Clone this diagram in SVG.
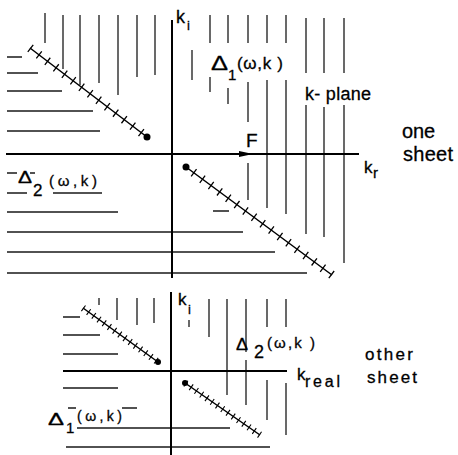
<svg xmlns="http://www.w3.org/2000/svg" width="458" height="455" viewBox="0 0 458 455">
<style>
.ax{stroke:#000;stroke-width:2;fill:none}
.h{stroke:#1a1a1a;stroke-width:1.3;fill:none}
.cut{stroke:#000;stroke-width:1.5;fill:none}
.tk{stroke:#000;stroke-width:9;stroke-dasharray:1.3 9.4;fill:none}
.tk2{stroke:#000;stroke-width:7;stroke-dasharray:1.1 5.3;fill:none}
text{font-family:"Liberation Sans","DejaVu Sans",sans-serif;fill:#000;stroke:#000;stroke-width:0.3}
</style>
<rect width="458" height="455" fill="#fff"/>
<g id="top-plane">
<g id="top-hatch-vertical">
<path class="h" d="M45,13V43 M63,15V69 M80,15V85 M99,15V83 M118,15V95 M137,15V77 M155,15V75
M192,50V80 M210,15V43 M210,77V92 M228,15V43 M228,88V104 M248,15V43 M248,82V122 M248,163V200
M267,15V43 M267,80V208 M286,15V43 M286,80V214 M306,18V73 M306,105V234 M324,18V73 M324,107V237 M344,18V73 M344,105V263"/>
</g>
<g id="top-hatch-horizontal">
<path class="h" d="M7,57H22 M7,73H38 M7,91H62 M7,111H93 M7,131H100
M7,173H17 M30,173H35 M7,193H27 M53,193H102 M7,212H118 M7,232H243 M7,252H275 M7,273H307 M213,211H229"/>
</g>
<g id="top-axes">
<path class="ax" d="M172,20V278 M6,154H359"/>
<polygon points="239,151 253,154 239,157" fill="#000"/>
</g>
<g id="top-cuts">
<path class="cut" d="M30,48L147,137 M186,167L332,275"/>
<path class="tk" d="M30,48L147,137"/>
<path class="tk" d="M332,275L186,167"/>
<circle cx="147" cy="137" r="3.5" fill="#000"/>
<circle cx="186" cy="167" r="3.5" fill="#000"/>
</g>
<g id="top-labels">
<text font-size="18"><tspan x="176" y="23">k</tspan><tspan x="187" y="30" font-size="13">i</tspan></text>
<text><tspan x="211" y="70" font-size="21" textLength="17" lengthAdjust="spacingAndGlyphs">Δ</tspan><tspan x="228" y="80" font-size="15">1</tspan><tspan x="237" y="69" font-size="17" textLength="46" lengthAdjust="spacing">(ω,k )</tspan></text>
<text x="305" y="100" font-size="18" textLength="66" lengthAdjust="spacing">k- plane</text>
<text x="246" y="147" font-size="19">F</text>
<text font-size="17"><tspan x="364" y="173">k</tspan><tspan x="373" y="178" font-size="15">r</tspan></text>
<text x="402" y="138" font-size="20" textLength="33" lengthAdjust="spacing">one</text>
<text x="403" y="161" font-size="20" textLength="50" lengthAdjust="spacing">sheet</text>
<text><tspan x="18" y="183" font-size="16" textLength="14" lengthAdjust="spacingAndGlyphs">Δ</tspan><tspan x="33" y="196" font-size="17">2</tspan><tspan x="49" y="186" font-size="15" textLength="48" lengthAdjust="spacing">(ω,k)</tspan></text>
</g>
</g>
<g id="bottom-plane">
<g id="bottom-hatch-vertical">
<path class="h" d="M99,298V305 M117,298V320 M137,298V325 M154,298V323 M189,320V327 M209,299V337 M227,299V395
M246,299V352 M246,360V405 M267,299V327 M267,380V420 M286,299V327 M286,383V435"/>
</g>
<g id="bottom-hatch-horizontal">
<path class="h" d="M63,317H80 M63,335H100 M63,354H118 M63,388H118 M68,408H76 M122,408H137 M77,428H230 M66,447H270"/>
</g>
<g id="bottom-axes">
<path class="ax" d="M171,292V455 M63,371H287"/>
</g>
<g id="bottom-cuts">
<path class="cut" d="M83,308L158,362 M185,383L260,435"/>
<path class="tk2" d="M83,308L158,362"/>
<path class="tk2" d="M260,435L185,383"/>
<circle cx="158" cy="362" r="3" fill="#000"/>
<circle cx="185" cy="383" r="3" fill="#000"/>
</g>
<g id="bottom-labels">
<text font-size="17"><tspan x="178" y="305">k</tspan><tspan x="188" y="314" font-size="13">i</tspan></text>
<text><tspan x="236" y="350" font-size="17" textLength="12" lengthAdjust="spacingAndGlyphs">Δ</tspan><tspan x="254" y="358" font-size="18">2</tspan><tspan x="267" y="348" font-size="15" textLength="48" lengthAdjust="spacing">(ω,k )</tspan></text>
<text font-size="17"><tspan x="297" y="380">k</tspan><tspan x="305" y="387" font-size="16" textLength="35" lengthAdjust="spacing">real</tspan></text>
<text x="365" y="360" font-size="17" textLength="48" lengthAdjust="spacing">other</text>
<text x="367" y="383" font-size="17" textLength="50" lengthAdjust="spacing">sheet</text>
<text><tspan x="48" y="425" font-size="17" textLength="16" lengthAdjust="spacingAndGlyphs">Δ</tspan><tspan x="66" y="433" font-size="15">1</tspan><tspan x="77" y="421" font-size="14" textLength="45" lengthAdjust="spacing">(ω,k)</tspan></text>
</g>
</g>
</svg>
